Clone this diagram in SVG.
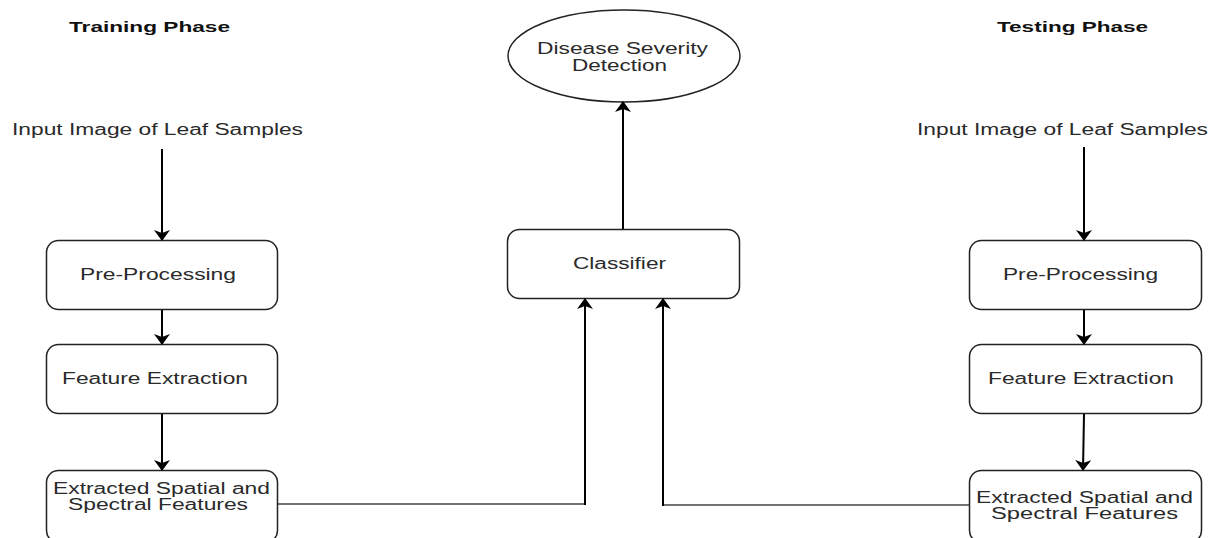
<svg xmlns="http://www.w3.org/2000/svg" width="1221" height="538" viewBox="0 0 1221 538">
<defs>
<style>
.box{fill:#fff;stroke:#222;stroke-width:1.5}
.t{font-family:"Liberation Sans",Arial,sans-serif;font-size:16px;fill:#2a2a2a}
.h{font-family:"Liberation Sans",Arial,sans-serif;font-size:15px;font-weight:bold;fill:#111}
.arr{stroke:#000;stroke-width:2;fill:none;marker-end:url(#ah)}
.ln{stroke:#444;stroke-width:1.3;fill:none}
</style>
<marker id="ah" viewBox="0 -9 12 18" markerWidth="12" markerHeight="18" refX="10" refY="0" orient="auto" markerUnits="userSpaceOnUse">
<path d="M0,-8 L11,0 L0,8 L3,0 z" fill="#000"/>
</marker>
</defs>
<rect width="1221" height="538" fill="#fff"/>

<g id="train-title"><text class="h" x="69" y="32" textLength="161" lengthAdjust="spacingAndGlyphs">Training Phase</text></g>
<g id="test-title"><text class="h" x="997" y="32" textLength="151" lengthAdjust="spacingAndGlyphs">Testing Phase</text></g>

<g id="train-input"><text class="t" x="12" y="135" textLength="291" lengthAdjust="spacingAndGlyphs">Input Image of Leaf Samples</text></g>
<g id="test-input"><text class="t" x="917" y="135" textLength="291" lengthAdjust="spacingAndGlyphs">Input Image of Leaf Samples</text></g>

<g id="train-pre"><rect class="box" x="46.5" y="240.5" width="231" height="69" rx="12"/>
<text class="t" x="80" y="280" textLength="156" lengthAdjust="spacingAndGlyphs">Pre-Processing</text></g>
<g id="train-fe"><rect class="box" x="46.5" y="344.5" width="231" height="69" rx="12"/>
<text class="t" x="62" y="384" textLength="186" lengthAdjust="spacingAndGlyphs">Feature Extraction</text></g>
<g id="train-ex"><rect class="box" x="46.5" y="470.5" width="231" height="72" rx="12"/>
<text class="t" x="53" y="494" textLength="217" lengthAdjust="spacingAndGlyphs">Extracted Spatial and</text>
<text class="t" x="68" y="510" textLength="180" lengthAdjust="spacingAndGlyphs">Spectral Features</text></g>

<g id="test-pre"><rect class="box" x="969.5" y="240.5" width="232" height="69" rx="12"/>
<text class="t" x="1003" y="280" textLength="155" lengthAdjust="spacingAndGlyphs">Pre-Processing</text></g>
<g id="test-fe"><rect class="box" x="969.5" y="344.5" width="232" height="69" rx="12"/>
<text class="t" x="988" y="384" textLength="186" lengthAdjust="spacingAndGlyphs">Feature Extraction</text></g>
<g id="test-ex"><rect class="box" x="969.5" y="470.5" width="232" height="72" rx="12"/>
<text class="t" x="976" y="503" textLength="217" lengthAdjust="spacingAndGlyphs">Extracted Spatial and</text>
<text class="t" x="991" y="519" textLength="187" lengthAdjust="spacingAndGlyphs">Spectral Features</text></g>

<g id="classifier"><rect class="box" x="507.5" y="229.5" width="232" height="69" rx="12"/>
<text class="t" x="573" y="269" textLength="93" lengthAdjust="spacingAndGlyphs">Classifier</text></g>

<g id="severity"><ellipse class="box" cx="624" cy="56" rx="116" ry="46"/>
<text class="t" x="537" y="54" textLength="171" lengthAdjust="spacingAndGlyphs">Disease Severity</text>
<text class="t" x="572" y="71" textLength="95" lengthAdjust="spacingAndGlyphs">Detection</text></g>

<g id="connectors">
<line class="arr" x1="162" y1="149" x2="162" y2="240"/>
<line class="arr" x1="162" y1="310" x2="162" y2="344"/>
<line class="arr" x1="162" y1="414" x2="162" y2="470"/>
<line class="arr" x1="1084" y1="147" x2="1084" y2="240"/>
<line class="arr" x1="1084" y1="310" x2="1084" y2="344"/>
<line class="arr" x1="1084" y1="414" x2="1083" y2="470"/>
<line class="arr" x1="623" y1="229" x2="623" y2="102"/>
<polyline class="ln" points="278,504 585,504 585,480"/>
<line class="arr" x1="585" y1="505" x2="585" y2="299"/>
<polyline class="ln" points="969,505 663,505 663,480"/>
<line class="arr" x1="663" y1="506" x2="663" y2="299"/>
</g>
</svg>
